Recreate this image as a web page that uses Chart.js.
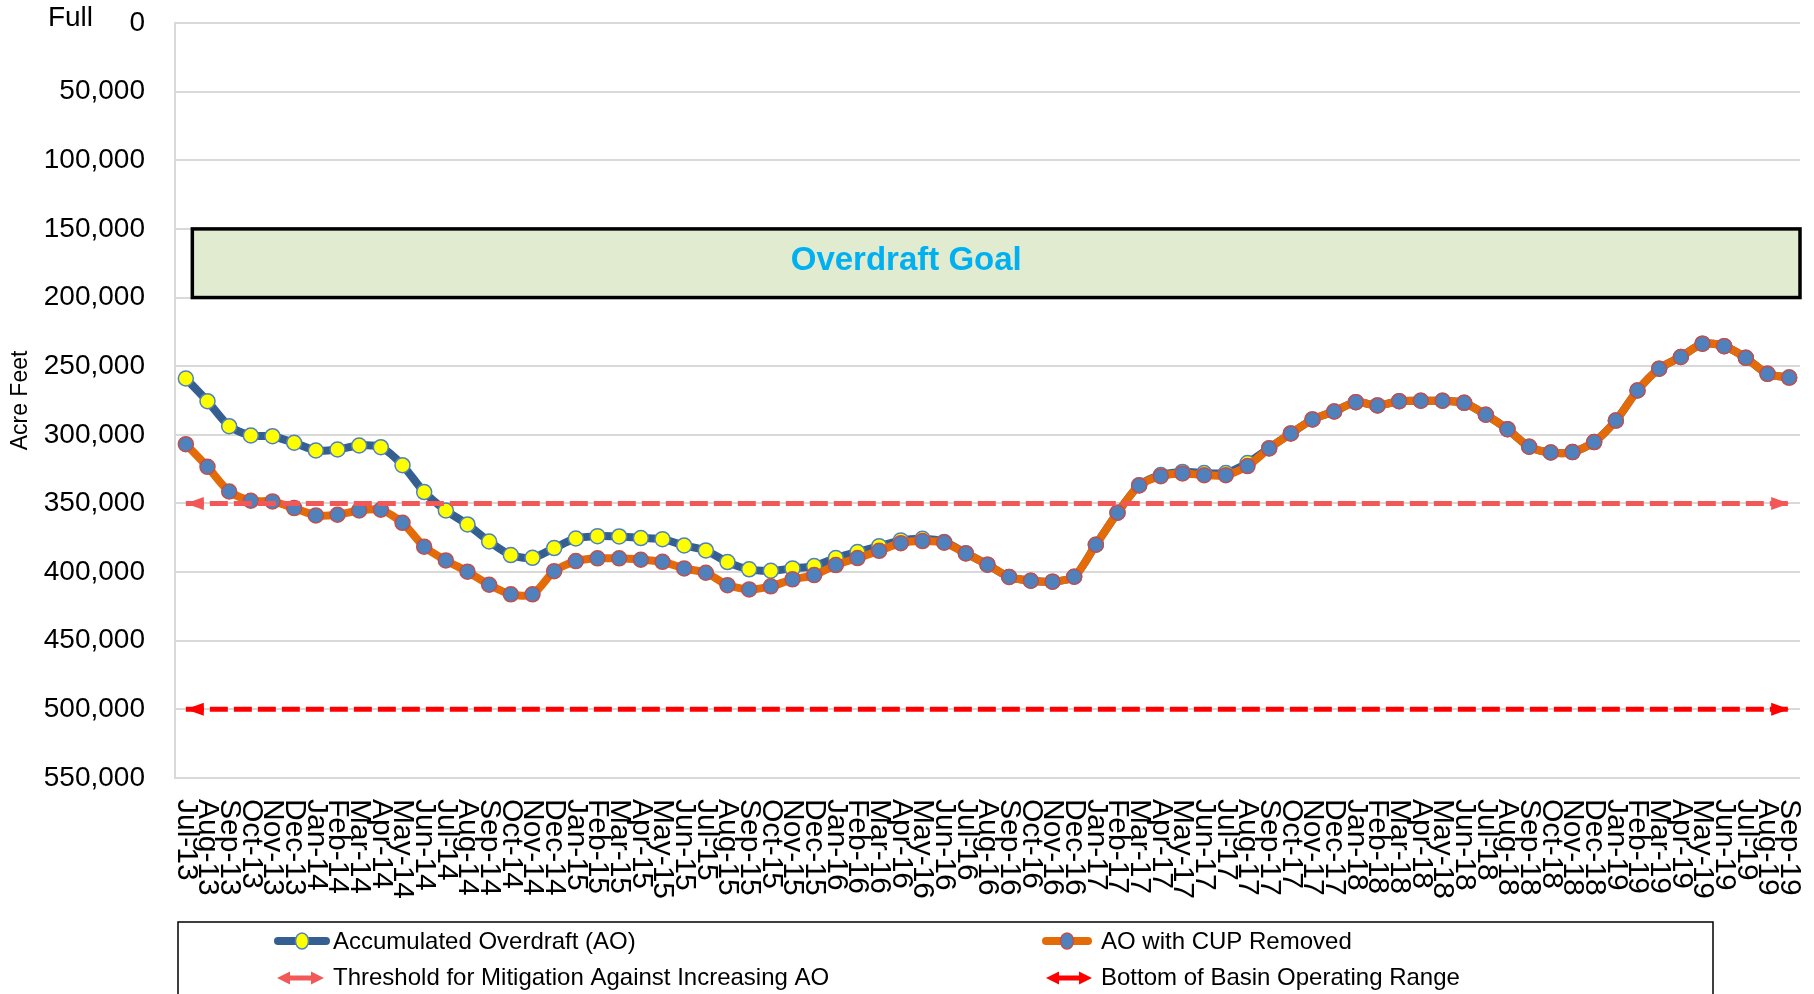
<!DOCTYPE html>
<html>
<head>
<meta charset="utf-8">
<script src="https://cdn.jsdelivr.net/npm/chart.js@4.4.1/dist/chart.umd.min.js"></script>
<style>
  html, body { margin: 0; padding: 0; background: #fff; }
  #wrap { width: 1814px; height: 994px; position: relative; }
</style>
</head>
<body>
<div id="wrap"><canvas id="aoChart"></canvas></div>
<script>
// Meses (eje x)
const months = [
    'Jul-13', 'Aug-13', 'Sep-13', 'Oct-13', 'Nov-13', 'Dec-13',
    'Jan-14', 'Feb-14', 'Mar-14', 'Apr-14', 'May-14', 'Jun-14',
    'Jul-14', 'Aug-14', 'Sep-14', 'Oct-14', 'Nov-14', 'Dec-14',
    'Jan-15', 'Feb-15', 'Mar-15', 'Apr-15', 'May-15', 'Jun-15',
    'Jul-15', 'Aug-15', 'Sep-15', 'Oct-15', 'Nov-15', 'Dec-15',
    'Jan-16', 'Feb-16', 'Mar-16', 'Apr-16', 'May-16', 'Jun-16',
    'Jul-16', 'Aug-16', 'Sep-16', 'Oct-16', 'Nov-16', 'Dec-16',
    'Jan-17', 'Feb-17', 'Mar-17', 'Apr-17', 'May-17', 'Jun-17',
    'Jul-17', 'Aug-17', 'Sep-17', 'Oct-17', 'Nov-17', 'Dec-17',
    'Jan-18', 'Feb-18', 'Mar-18', 'Apr-18', 'May-18', 'Jun-18',
    'Jul-18', 'Aug-18', 'Sep-18', 'Oct-18', 'Nov-18', 'Dec-18',
    'Jan-19', 'Feb-19', 'Mar-19', 'Apr-19', 'May-19', 'Jun-19',
    'Jul-19', 'Aug-19', 'Sep-19'
];

// Accumulated Overdraft (AO)
const aoValues = [
    259000, 275500, 293700, 300500, 301000, 305800,
    311400, 310700, 307800, 309000, 322100, 341700,
    355100, 365300, 377700, 387600, 389600, 382500,
    375500, 373800, 374000, 375200, 376000, 380600,
    384200, 392700, 398000, 399000, 397300, 395600,
    389800, 385400, 381100, 376900, 375700, 378000,
    386200, 394600, 403600, 406300, 407000, 403400,
    380100, 356800, 336700, 329300, 327000, 327800,
    327800, 320500, 309700, 299000, 288800, 283000,
    276200, 278600, 275500, 275200, 275200, 276700,
    285400, 295900, 308700, 312900, 312600, 305300,
    289600, 267700, 251800, 243300, 233600, 235400,
    243900, 255600, 258300
];

// AO with CUP Removed
const cupRemovedValues = [
    306800, 323300, 341300, 348000, 348500, 353400,
    358700, 358200, 355100, 354600, 364100, 381500,
    391500, 399700, 409200, 416200, 416200, 399300,
    392000, 390000, 390000, 391000, 392500, 397300,
    400500, 409500, 412600, 410400, 405300, 402200,
    394900, 389800, 384500, 378900, 377400, 378600,
    386400, 394600, 403600, 406300, 407000, 403400,
    380100, 356800, 336900, 330100, 328100, 329400,
    329400, 322800, 309900, 299000, 288800, 283000,
    276200, 278600, 275500, 275200, 275200, 276700,
    285400, 295900, 308700, 312900, 312600, 305300,
    289600, 267700, 251800, 243300, 233600, 235400,
    243900, 255600, 258300
];

// Eje y (invertido)
const yMin = 0;
const yMax = 550000;
const yStep = 50000;

// Meta y umbrales
const goalTop = 150000;
const goalBottom = 200000;
const goalLabel = 'Overdraft Goal';
const thresholdValue = 350000;
const bottomRangeValue = 500000;

const seriesNames = [
    'Accumulated Overdraft (AO)',
    'AO with CUP Removed',
    'Threshold for Mitigation Against Increasing AO',
    'Bottom of Basin Operating Range'
];

const FONT = '"Liberation Sans", Arial, sans-serif';
const AO_LINE = '#365F91';
const CUP_LINE = '#E36C09';
const THRESH = '#F35858';
const BOTTOM = '#FF0000';

function arrowHead(ctx, x, y, dir, len, half, color) {
    ctx.beginPath();
    ctx.moveTo(x, y);
    ctx.lineTo(x + dir * len, y - half);
    ctx.lineTo(x + dir * len, y + half);
    ctx.closePath();
    ctx.fillStyle = color;
    ctx.fill();
}

// Caja "Overdraft Goal" detras de las series
const goalBoxPlugin = {
    id: 'goalBox',
    beforeDatasetsDraw(chart) {
        const { ctx, chartArea, scales: { x, y } } = chart;
        const step = x.getPixelForValue(1) - x.getPixelForValue(0);
        const left = x.getPixelForValue(0) + step * 0.3;
        const right = chartArea.right;
        const top = y.getPixelForValue(goalTop);
        const bottom = y.getPixelForValue(goalBottom);
        ctx.save();
        ctx.fillStyle = '#E1EBD0';
        ctx.fillRect(left, top, right - left, bottom - top);
        ctx.strokeStyle = '#000';
        ctx.lineWidth = 3.5;
        ctx.strokeRect(left, top, right - left, bottom - top);
        ctx.fillStyle = '#00B0F0';
        ctx.font = 'bold 33px ' + FONT;
        ctx.textAlign = 'center';
        ctx.textBaseline = 'middle';
        ctx.fillText(goalLabel, chartArea.left + chartArea.width * 0.45, (top + bottom) / 2 - 2);
        ctx.restore();
    }
};

// Flechas en los extremos de las lineas de umbral
const arrowPlugin = {
    id: 'thresholdArrows',
    afterDatasetsDraw(chart) {
        const ctx = chart.ctx;
        [2, 3].forEach(i => {
            const meta = chart.getDatasetMeta(i);
            const color = chart.data.datasets[i].borderColor;
            const p0 = meta.data[0];
            const p1 = meta.data[meta.data.length - 1];
            ctx.save();
            arrowHead(ctx, p0.x, p0.y, 1, 18, 6.5, color);
            arrowHead(ctx, p1.x, p1.y, -1, 18, 6.5, color);
            ctx.restore();
        });
    }
};

// Etiquetas del eje x giradas, "Full" y leyenda
const extrasPlugin = {
    id: 'extras',
    afterDraw(chart) {
        const { ctx, chartArea, scales: { x } } = chart;
        ctx.save();
        ctx.fillStyle = '#000';
        ctx.font = '30px ' + FONT;
        ctx.textAlign = 'left';
        ctx.textBaseline = 'middle';
        months.forEach((m, i) => {
            const px = x.getPixelForValue(i);
            ctx.save();
            ctx.translate(px, chartArea.bottom + 21);
            ctx.rotate(Math.PI / 2);
            ctx.fillText(m, 0, 0);
            ctx.restore();
        });

        ctx.font = '28px ' + FONT;
        ctx.textAlign = 'right';
        ctx.fillText('Full', 93, 18);

        // leyenda
        ctx.strokeStyle = '#000';
        ctx.lineWidth = 1.5;
        ctx.strokeRect(178, 922, 1713 - 178, 120);

        ctx.font = '24px ' + FONT;
        ctx.textAlign = 'left';
        ctx.fillStyle = '#000';

        const seriesSymbol = (x1, x2, y, line, fill, border) => {
            ctx.beginPath();
            ctx.moveTo(x1 + 4, y);
            ctx.lineTo(x2 - 4, y);
            ctx.strokeStyle = line;
            ctx.lineWidth = 8;
            ctx.lineCap = 'round';
            ctx.stroke();
            ctx.beginPath();
            ctx.ellipse((x1 + x2) / 2, y, 6.5, 8, 0, 0, Math.PI * 2);
            ctx.fillStyle = fill;
            ctx.fill();
            ctx.lineWidth = 1.5;
            ctx.strokeStyle = border;
            ctx.stroke();
        };
        const arrowSymbol = (x1, x2, y, color) => {
            ctx.beginPath();
            ctx.moveTo(x1 + 10, y);
            ctx.lineTo(x2 - 10, y);
            ctx.strokeStyle = color;
            ctx.lineWidth = 5;
            ctx.lineCap = 'butt';
            ctx.stroke();
            arrowHead(ctx, x1, y, 1, 13, 6.5, color);
            arrowHead(ctx, x2, y, -1, 13, 6.5, color);
        };

        seriesSymbol(274, 330, 941, AO_LINE, '#FFFF00', '#4F81BD');
        seriesSymbol(1042, 1092, 941, CUP_LINE, '#4F81BD', '#C0504D');
        arrowSymbol(277, 324, 978, THRESH);
        arrowSymbol(1046, 1092, 978, BOTTOM);

        ctx.fillStyle = '#000';
        ctx.fillText(seriesNames[0], 333, 942);
        ctx.fillText(seriesNames[1], 1101, 942);
        ctx.fillText(seriesNames[2], 333, 978);
        ctx.fillText(seriesNames[3], 1101, 978);
        ctx.restore();
    }
};

const ctx = document.getElementById('aoChart').getContext('2d');
new Chart(ctx, {
    type: 'line',
    data: {
        labels: months,
        datasets: [{
            label: seriesNames[0],
            data: aoValues,
            borderColor: AO_LINE,
            borderWidth: 8,
            tension: 0.25,
            pointRadius: 7.5,
            pointHoverRadius: 7.5,
            pointBackgroundColor: '#FFFF00',
            pointBorderColor: '#4F81BD',
            pointBorderWidth: 1.5,
            order: 2
        }, {
            label: seriesNames[1],
            data: cupRemovedValues,
            borderColor: CUP_LINE,
            borderWidth: 8,
            tension: 0.25,
            pointRadius: 7.5,
            pointHoverRadius: 7.5,
            pointBackgroundColor: '#4F81BD',
            pointBorderColor: '#C0504D',
            pointBorderWidth: 1.5,
            order: 1
        }, {
            label: seriesNames[2],
            data: [{ x: months[0], y: thresholdValue }, { x: months[months.length - 1], y: thresholdValue }],
            borderColor: THRESH,
            borderWidth: 5,
            borderDash: [18, 6],
            pointRadius: 0,
            tension: 0,
            order: 0
        }, {
            label: seriesNames[3],
            data: [{ x: months[0], y: bottomRangeValue }, { x: months[months.length - 1], y: bottomRangeValue }],
            borderColor: BOTTOM,
            borderWidth: 5,
            borderDash: [18, 6],
            pointRadius: 0,
            tension: 0,
            order: 0
        }]
    },
    options: {
        responsive: true,
        maintainAspectRatio: false,
        animation: false,
        layout: {
            padding: { top: 23, right: 14, bottom: 0, left: 0 }
        },
        scales: {
            x: {
                type: 'category',
                offset: true,
                grid: { display: false },
                border: { display: false },
                ticks: { display: false },
                afterFit: s => { s.height = 216; }
            },
            y: {
                reverse: true,
                min: yMin,
                max: yMax,
                grid: {
                    color: '#D9D9D9',
                    lineWidth: 2,
                    drawTicks: true,
                    tickLength: 30,
                    tickColor: 'rgba(0,0,0,0)'
                },
                border: { color: '#D9D9D9', width: 2 },
                ticks: {
                    stepSize: yStep,
                    padding: 0,
                    color: '#000',
                    font: { family: FONT, size: 28 },
                    callback: v => v.toLocaleString('en-US')
                },
                title: {
                    display: true,
                    text: 'Acre Feet',
                    color: '#000',
                    font: { family: FONT, size: 23 },
                    padding: { top: 7, bottom: 0 }
                },
                afterFit: s => { s.width = 175; }
            }
        },
        plugins: {
            legend: { display: false },
            tooltip: { enabled: false }
        }
    },
    plugins: [goalBoxPlugin, arrowPlugin, extrasPlugin]
});
</script>
</body>
</html>
